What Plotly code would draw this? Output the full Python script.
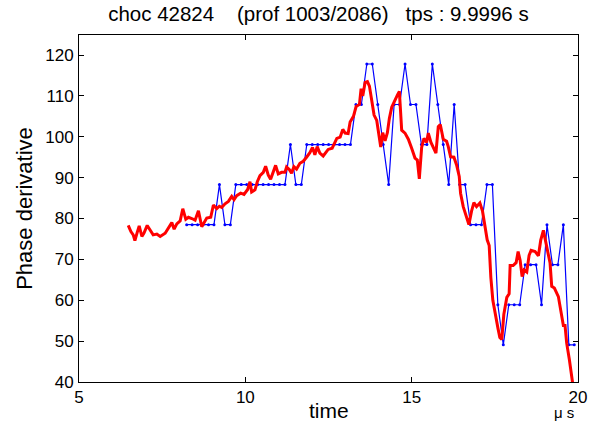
import plotly.graph_objects as go

# Interferometer samples (quantised phase derivative), one every ~0.164 µs
blue_t0 = 8.237
blue_dt = 0.1641
blue_vals = [
    78.5, 78.5, 78.5, 78.5, 78.5, 78.5, 88.3, 78.5, 78.5, 88.3,
    88.3, 88.3, 88.3, 88.3, 88.3, 88.3, 88.3, 88.3, 88.3, 98.1,
    88.3, 88.3, 98.1, 98.1, 98.1, 98.1, 98.1, 98.1, 98.1, 98.1,
    98.1, 107.9, 107.9, 117.8, 117.8, 107.9, 98.1, 88.3, 107.9, 107.9,
    117.8, 107.9, 107.9, 98.1, 98.1, 117.8, 107.9, 98.1, 88.3, 107.9,
    88.3, 88.3, 78.5, 78.5, 78.5, 88.3, 88.3, 58.9, 49.1, 58.9,
    58.9, 58.9, 68.7, 68.7, 68.7, 58.9, 78.5, 68.7, 68.7, 78.5,
    49.1, 49.1,
]
blue_time = [blue_t0 + i * blue_dt for i in range(len(blue_vals))]

# Reflectometry profile (continuous phase derivative)
red_time = [
    6.48, 6.56, 6.63, 6.68, 6.75, 6.81, 6.89, 6.95, 7.05, 7.13,
    7.23, 7.34, 7.44, 7.59, 7.71, 7.79, 7.86, 7.94, 8.04, 8.12,
    8.21, 8.29, 8.39, 8.49, 8.59, 8.69, 8.84, 8.96, 9.04, 9.14,
    9.22, 9.29, 9.39, 9.49, 9.59, 9.66, 9.74, 9.86, 9.96, 10.07,
    10.14, 10.19, 10.29, 10.36, 10.44, 10.54, 10.61, 10.69, 10.76, 10.84,
    10.91, 10.99, 11.09, 11.19, 11.24, 11.32, 11.39, 11.46, 11.54, 11.64,
    11.74, 11.84, 11.94, 12.02, 12.09, 12.16, 12.24, 12.34, 12.49, 12.61,
    12.70, 12.75, 12.85, 12.93, 13.00, 13.09, 13.15, 13.25, 13.33, 13.43,
    13.48, 13.53, 13.60, 13.67, 13.73, 13.80, 13.87, 13.95, 14.00, 14.07,
    14.13, 14.20, 14.27, 14.33, 14.40, 14.50, 14.57, 14.63, 14.70, 14.80,
    14.90, 15.00, 15.10, 15.17, 15.23, 15.30, 15.37, 15.45, 15.50, 15.58,
    15.65, 15.73, 15.80, 15.86, 15.95, 16.05, 16.10, 16.17, 16.27, 16.35,
    16.43, 16.47, 16.55, 16.63, 16.72, 16.80, 16.87, 16.95, 17.05, 17.13,
    17.20, 17.27, 17.33, 17.38, 17.44, 17.50, 17.59, 17.65, 17.71, 17.77,
    17.86, 17.93, 17.96, 18.05, 18.14, 18.20, 18.26, 18.32, 18.38, 18.46,
    18.53, 18.59, 18.71, 18.81, 18.88, 18.96, 19.06, 19.16, 19.21, 19.29,
    19.41, 19.48, 19.56, 19.61, 19.66, 19.74, 19.82, 19.86,
]
red_vals = [
    78.3, 76.8, 76.0, 74.6, 76.6, 78.2, 75.6, 76.4, 78.3, 77.2,
    76.0, 76.2, 75.6, 76.4, 78.0, 79.0, 77.4, 78.7, 79.4, 82.4,
    79.8, 80.3, 80.0, 79.6, 81.9, 78.0, 80.1, 80.3, 83.3, 82.4,
    83.0, 82.7, 83.6, 84.2, 85.4, 84.6, 85.6, 86.2, 85.9, 87.1,
    89.0, 86.5, 87.0, 89.0, 90.5, 91.3, 92.8, 90.6, 89.6, 91.2,
    93.0, 90.9, 91.3, 91.3, 92.6, 92.0, 91.1, 92.7, 92.1, 93.5,
    94.0, 95.0, 96.1, 97.4, 95.6, 97.6, 96.0, 95.3, 96.9, 97.2,
    98.5, 99.6, 99.9, 101.8, 100.9, 100.8, 103.6, 105.0, 107.4, 107.9,
    111.8, 110.0, 113.3, 113.5, 112.4, 109.0, 105.3, 104.0, 101.2, 97.5,
    101.0, 99.0, 101.0, 104.5, 107.2, 109.2, 110.2, 111.1, 101.6, 100.9,
    99.4, 97.2, 94.8, 94.3, 89.7, 97.4, 99.6, 98.6, 100.9, 98.6,
    97.2, 96.0, 102.5, 103.0, 99.4, 98.9, 97.6, 95.1, 95.0, 93.1,
    90.3, 86.2, 82.9, 80.9, 78.5, 81.8, 83.9, 82.9, 83.8, 81.8,
    78.0, 74.8, 73.4, 65.6, 60.0, 56.9, 53.3, 50.9, 50.4, 56.5,
    60.7, 61.6, 68.5, 68.5, 69.2, 71.9, 69.8, 65.8, 67.4, 66.9,
    71.0, 72.2, 71.9, 70.9, 74.7, 77.1, 73.1, 69.1, 63.4, 63.0,
    60.9, 57.5, 53.8, 53.8, 49.5, 45.5, 40.0, 38.5,
]

x_ticks = [5, 10, 15, 20]
y_ticks = [40, 50, 60, 70, 80, 90, 100, 110, 120]

nb = "\u00a0"
title_text = "choc 42824" + nb * 4 + "(prof 1003/2086)" + nb * 3 + "tps : 9.9996 s"

font_family = "Liberation Sans, Arial, Helvetica, sans-serif"

fig = go.Figure()
fig.add_trace(go.Scatter(
    x=blue_time, y=blue_vals, mode="lines+markers",
    line=dict(color="#0000ff", width=1.2),
    marker=dict(color="#0000ff", size=3),
    showlegend=False, cliponaxis=True,
))
fig.add_trace(go.Scatter(
    x=red_time, y=red_vals, mode="lines",
    line=dict(color="#ff0000", width=3),
    showlegend=False, cliponaxis=True,
))

axis_common = dict(
    showgrid=False, zeroline=False, automargin=False,
    showline=True, linecolor="black", linewidth=1, mirror="ticks",
    ticks="inside", ticklen=5, tickcolor="black", tickwidth=1,
    tickfont=dict(family=font_family, size=17, color="black"),
)

fig.update_xaxes(
    range=[5, 20], tickvals=x_ticks, ticktext=[str(v) for v in x_ticks],
    ticklabelstandoff=0,
    **axis_common,
)
fig.update_yaxes(
    range=[40, 124.9], tickvals=y_ticks, ticktext=[str(v) for v in y_ticks],
    ticklabelstandoff=1,
    title=dict(text="Phase derivative", font=dict(family=font_family, size=22, color="black"), standoff=6),
    **axis_common,
)

fig.update_layout(
    width=593, height=427,
    margin=dict(l=79, r=15, t=35, b=45),
    paper_bgcolor="white", plot_bgcolor="white",
    title=dict(
        text=title_text, x=0.537, xanchor="center", y=0.967, yanchor="middle",
        font=dict(family=font_family, size=20.5, color="black"),
    ),
    annotations=[
        # x-axis label, placed just under the tick labels
        dict(
            text="time", x=0.5, y=0, xref="paper", yref="paper",
            yshift=-28, yanchor="middle", showarrow=False,
            font=dict(family=font_family, size=21, color="black"),
        ),
        # time unit under the last tick
        dict(
            text="\u03bc s", x=19.59, y=0, xref="x", yref="paper",
            yshift=-30, yanchor="middle", showarrow=False,
            font=dict(family=font_family, size=15, color="black"),
        ),
    ],
)

fig.write_html("out.html")
